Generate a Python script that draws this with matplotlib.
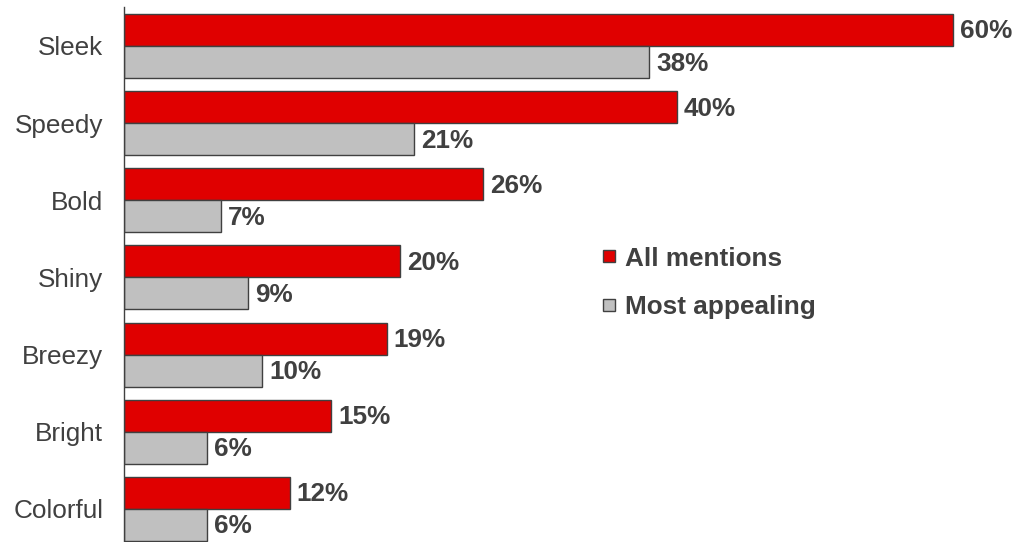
import matplotlib
matplotlib.use("Agg")
import matplotlib.pyplot as plt
from matplotlib.lines import Line2D
import numpy as np

categories = ["Sleek", "Speedy", "Bold", "Shiny", "Breezy", "Bright", "Colorful"]
all_mentions = [60, 40, 26, 20, 19, 15, 12]
most_appealing = [38, 21, 7, 9, 10, 6, 6]
series_names = ["All mentions", "Most appealing"]

plt.rcParams['font.family'] = ['Liberation Sans', 'DejaVu Sans']
TXT = '#404040'
RED = '#E00000'
GRAY = '#C0C0C0'

fig = plt.figure(figsize=(10.14, 5.42), dpi=100)
ax = fig.add_axes([124/1014, 0, 1 - 124/1014, (542-7)/542])

y = np.arange(len(categories))
h = 0.415
b1 = ax.barh(y - h/2, all_mentions, height=h, color=RED, edgecolor=TXT, linewidth=1)
b2 = ax.barh(y + h/2, most_appealing, height=h, color=GRAY, edgecolor=TXT, linewidth=1)

for bars, vals in ((b1, all_mentions), (b2, most_appealing)):
    for bar, v in zip(bars, vals):
        ax.text(bar.get_width() + 0.5, bar.get_y() + bar.get_height()/2 + 0.02, f"{v}%",
                va='center', ha='left', fontsize=18.8, fontweight='bold', color=TXT)

ax.set_xlim(0, 64.4)
ax.set_ylim(6.43, -0.505)
ax.set_yticks(y)
ax.set_yticklabels(categories, fontsize=18.8, color=TXT)
ax.tick_params(axis='y', length=0, pad=15)
ax.set_xticks([])
for s in ['top', 'right', 'bottom']:
    ax.spines[s].set_visible(False)
ax.spines['left'].set_color(TXT)
ax.spines['left'].set_linewidth(1)

handles = [Line2D([], [], linestyle='None', marker='s', markersize=9, markerfacecolor=c,
                  markeredgecolor=TXT, markeredgewidth=1) for c in (RED, GRAY)]
leg = ax.legend(handles, series_names, loc='upper left', bbox_to_anchor=(578/1014, 1 - 223/542),
                bbox_transform=fig.transFigure, frameon=False, handlelength=0.55,
                handletextpad=0.35, labelspacing=0.95, prop={'size': 18.8, 'weight': 'bold'})
for t in leg.get_texts():
    t.set_color(TXT)

fig.savefig('out.png', dpi=100)
